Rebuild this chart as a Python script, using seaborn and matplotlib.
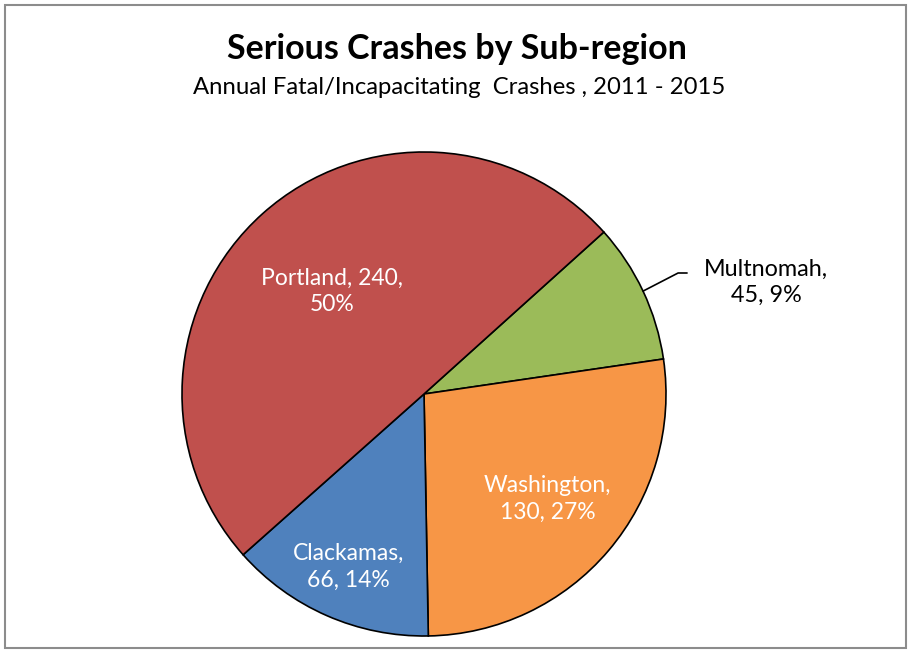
import numpy as np
import matplotlib
matplotlib.use("Agg")
import matplotlib.pyplot as plt
from matplotlib.patches import Rectangle
import seaborn as sns

# data (Excel order, clockwise)
regions = ["Multnomah", "Washington", "Clackamas", "Portland"]
crashes = [45, 130, 66, 240]
colors = ["#9BBB59", "#F79646", "#4F81BD", "#C0504D"]

sns.set_theme(style="white")
plt.rcParams['font.family'] = ['Lato', 'DejaVu Sans']

fig = plt.figure(figsize=(9.11, 6.51), dpi=100)
fig.patch.set_facecolor("white")
fig.add_artist(Rectangle((5 / 911, 3 / 651), 901 / 911, 643 / 651, transform=fig.transFigure,
                         fill=False, edgecolor="#8c8c8c", linewidth=1.5))

ax = fig.add_axes([182 / 911, 15 / 651, 484 / 911, 484 / 651])
wedges, _ = ax.pie(crashes, colors=sns.color_palette(colors), startangle=42, counterclock=False,
                   wedgeprops=dict(edgecolor="black", linewidth=1.2))
ax.set_xlim(-1, 1)
ax.set_ylim(-1, 1)
ax.set_aspect("equal")
ax.axis("off")

total = sum(crashes)
pcts = [round(v / total * 100) for v in crashes]
label_r = {"Washington": 0.67, "Clackamas": 0.78, "Portland": 0.57}

for w, name, v, p in zip(wedges, regions, crashes, pcts):
    mid = np.deg2rad((w.theta1 + w.theta2) / 2)
    txt = f"{name},\n{v}, {p}%" if name != "Portland" else f"{name}, {v},\n{p}%"
    if name in label_r:
        r = label_r[name]
        ax.text(r * np.cos(mid), r * np.sin(mid), txt, ha="center", va="center",
                color="white", fontsize=16.5, linespacing=1.3)
    else:
        # outside label with leader line
        ex, ey = np.cos(mid), np.sin(mid)
        ax.plot([ex, 1.05, 1.087], [ey, 0.50, 0.50], color="black", lw=1.2, clip_on=False)
        ax.text(1.415, 0.463, txt, ha="center", va="center", color="black",
                fontsize=16.8, linespacing=1.3)

fig.text(0.502, 0.925, "Serious Crashes by Sub-region", ha="center", va="center",
         fontsize=24.5, fontweight="bold", color="black")
fig.text(0.504, 0.865, "Annual Fatal/Incapacitating  Crashes , 2011 - 2015", ha="center", va="center",
         fontsize=17.2, color="black")

fig.savefig("out.png", dpi=100, facecolor="white")
